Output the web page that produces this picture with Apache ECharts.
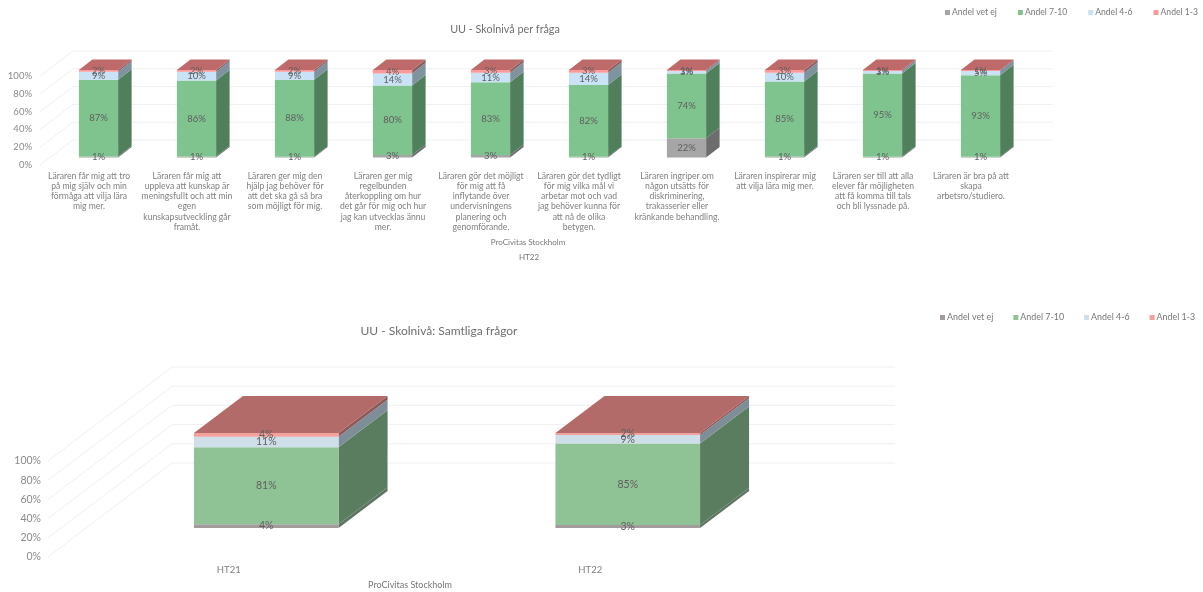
<!DOCTYPE html>
<html><head><meta charset="utf-8">
<style>html,body{margin:0;padding:0;background:#fff}#c{width:1203px;height:592px;filter:blur(0.5px)}</style>
<script src="https://cdn.jsdelivr.net/npm/echarts@6/dist/echarts.min.js"></script>
</head><body><div id="c"></div>
<script>
const questions = [
 "Läraren får mig att tro\npå mig själv och min\nförmåga att vilja lära\nmig mer.",
 "Läraren får mig att\nuppleva att kunskap är\nmeningsfullt och att min\negen\nkunskapsutveckling går\nframåt.",
 "Läraren ger mig den\nhjälp jag behöver för\natt det ska gå så bra\nsom möjligt för mig.",
 "Läraren ger mig\nregelbunden\nåterkoppling om hur\ndet går för mig och hur\njag kan utvecklas ännu\nmer.",
 "Läraren gör det möjligt\nför mig att få\ninflytande över\nundervisningens\nplanering och\ngenomförande.",
 "Läraren gör det tydligt\nför mig vilka mål vi\narbetar mot och vad\njag behöver kunna för\natt nå de olika\nbetygen.",
 "Läraren ingriper om\nnågon utsätts för\ndiskriminering,\ntrakasserier eller\nkränkande behandling.",
 "Läraren inspirerar mig\natt vilja lära mig mer.",
 "Läraren ser till att alla\nelever får möjligheten\natt få komma till tals\noch bli lyssnade på.",
 "Läraren är bra på att\nskapa\narbetsro/studiero."
];
const q_vetEj = [1,1,1,3,3,1,22,1,1,1];
const q_a7_10 = [87,86,88,80,83,82,74,85,95,93];
const q_a4_6  = [9,10,9,14,11,14,3,10,3,5];
const q_a1_3  = [2,2,2,4,3,3,1,3,1,1];
const terms = ["HT21","HT22"];
const t_vetEj = [4,3];
const t_a7_10 = [81,85];
const t_a4_6  = [11,9];
const t_a1_3  = [4,2];
const seriesNames = ["Andel vet ej","Andel 7-10","Andel 4-6","Andel 1-3"];
const yTicks = [0,20,40,60,80,100];
const FONT = "Lato";

function rows(cols){
  return cols.map((col,s)=>col.map((v,i)=>{
    const total = cols.reduce((a,c)=>a+c[i],0);
    const base = cols.slice(0,s).reduce((a,c)=>a+c[i],0);
    return [i, base/total*100, (base+v)/total*100, v];
  }));
}
function barRender(st){
  return function(params,api){
    const i=api.value(0), lo=api.value(1), hi=api.value(2), raw=api.value(3);
    const a=api.coord([i,lo]), b=api.coord([i,hi]);
    const w=api.size([1,0])[0]*st.ratio, L=a[0]-w/2, R=a[0]+w/2;
    const ch=[
      {type:'polygon',shape:{points:[[L,a[1]],[R,a[1]],[R,b[1]],[L,b[1]]]},style:{fill:st.front},z2:10},
      {type:'polygon',shape:{points:[[R,a[1]],[R+st.dx,a[1]-st.dy],[R+st.dx,b[1]-st.dy],[R,b[1]]]},style:{fill:st.side},z2:9}
    ];
    if(st.top) ch.push({type:'polygon',shape:{points:[[L,b[1]],[R,b[1]],[R+st.dx,b[1]-st.dy],[L+st.dx,b[1]-st.dy]]},style:{fill:st.top},z2:9});
    ch.push({type:'text',z2:50,style:{text:raw+'%',x:a[0],y:(a[1]+b[1])/2,align:'center',verticalAlign:'middle',fill:st.label,font:st.font}});
    return {type:'group',children:ch};
  };
}
function wallRender(dx,dy,color){
  return function(params,api){
    const cs=params.coordSys, y=api.coord([0,api.value(0)])[1];
    return {type:'polyline',shape:{points:[[cs.x,y],[cs.x+dx,y-dy],[cs.x+cs.width+dx,y-dy]]},style:{fill:null,stroke:color,lineWidth:1},z2:1};
  };
}
const pal1={front:['#a6a6a6','#7fc48f','#c9e2f6','#fb9a9a'],side:['#6d6d6d','#4f7f5b','#7f939f','#8c5f5f'],top:'#bf6a6a'};
const pal2={front:['#a49c9c','#8fc295','#cfdfe9','#f2a19c'],side:['#5f7563','#5a7d5f','#7e8e98','#8e5a58'],top:'#b26b68'};

function chartParts(gi,cfg){
  const g=[{left:cfg.fx,top:cfg.ft,width:cfg.w,height:cfg.h},{left:cfg.bx,top:cfg.bt,width:cfg.w,height:cfg.bh}];
  const x=[{gridIndex:gi,type:'category',data:cfg.cats,axisLine:{show:false},axisTick:{show:false},
            axisLabel:{interval:0,margin:cfg.xm,fontFamily:FONT,fontSize:cfg.xf,lineHeight:cfg.xl,color:'#808080',align:'center'}},
           {gridIndex:gi+1,type:'category',data:cfg.cats,show:false}];
  const y=[{gridIndex:gi,type:'value',min:0,max:100,interval:20,axisLine:{show:false},axisTick:{show:false},splitLine:{show:false},
            axisLabel:{margin:cfg.ym,fontFamily:FONT,fontSize:cfg.yf,color:'#8a8a8a',formatter:'{value}%'}},
           {gridIndex:gi+1,type:'value',min:0,max:100,interval:20,show:false}];
  const s=[{type:'custom',xAxisIndex:gi,yAxisIndex:gi,silent:true,z:1,data:yTicks.map(v=>[v]),encode:{y:0},
            renderItem:wallRender(cfg.wdx,cfg.wdy,'#f0f0f0'),animation:false}];
  rows(cfg.cols).forEach((data,k)=>{
    s.push({name:seriesNames[k],type:'custom',xAxisIndex:gi+1,yAxisIndex:gi+1,silent:true,z:2,
      itemStyle:{color:cfg.pal.front[k]},data,encode:{x:0,y:[1,2]},animation:false,
      renderItem:barRender({ratio:0.4,dx:cfg.dx,dy:cfg.dy,front:cfg.pal.front[k],side:cfg.pal.side[k],
        top:k===3?cfg.pal.top:null,label:'#5f5f5f',font:cfg.lf+'px '+FONT})});
  });
  return {g,x,y,s};
}
const A=chartParts(0,{cats:questions,cols:[q_vetEj,q_a7_10,q_a4_6,q_a1_3],pal:pal1,
  fx:40,ft:76,w:980,h:89,bx:49.5,bt:70,bh:87.5,dx:13.5,dy:10.5,wdx:33,wdy:25,xm:6,xf:8.6,xl:10.2,ym:8,yf:9.5,lf:9.5});
const B=chartParts(2,{cats:terms,cols:[t_vetEj,t_a7_10,t_a4_6,t_a1_3],pal:pal2,
  fx:48,ft:461,w:723,h:96,bx:85.5,bt:433,bh:95,dx:49,dy:37,wdx:124,wdy:94,xm:7,xf:9.5,xl:12,ym:7,yf:10.5,lf:10.5});

function legend(left,top,pal,gap,size){
  return {left,top,width:262,padding:0,itemWidth:5,itemHeight:5,itemGap:gap,icon:'rect',selectedMode:false,
    textStyle:{fontFamily:FONT,fontSize:size,color:'#777',padding:[0,0,0,-3]},
    data:seriesNames.map((n,k)=>({name:n,itemStyle:{color:pal.front[k]}}))};
}
const t=(text,x,y,size,color)=>({text,left:x,top:y,textAlign:'center',padding:0,textStyle:{fontFamily:FONT,fontSize:size,fontWeight:'normal',color}});
const option={
  animation:false,backgroundColor:'#fff',
  title:[t("UU - Skolnivå per fråga",505,24,10.8,'#6f6f6f'),t("ProCivitas Stockholm",528,238,8,'#777'),t("HT22",529,253,8,'#777'),
         t("UU - Skolnivå: Samtliga frågor",439,325,12,'#6f6f6f'),t("ProCivitas Stockholm",410,581,9,'#777')],
  legend:[legend(945,8,pal1,21,8.6),legend(940,313,pal2,20,8.9)],
  grid:[...A.g,...B.g],
  xAxis:[...A.x,...B.x],
  yAxis:[...A.y,...B.y],
  series:[...A.s,...B.s]
};
const chart=echarts.init(document.getElementById('c'),null,{renderer:'canvas'});
chart.setOption(option);
</script></body></html>
